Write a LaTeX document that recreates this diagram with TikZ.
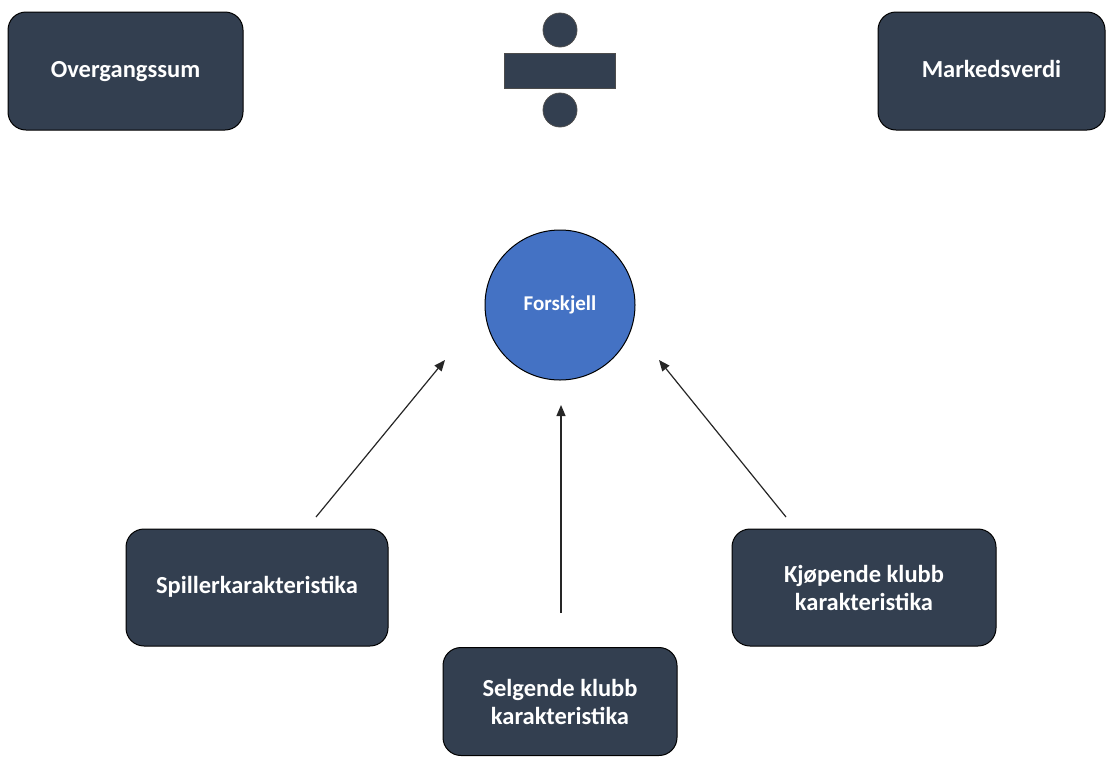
\documentclass[tikz,border=0pt]{standalone}
\usepackage{fontspec}
\setmainfont{Carlito}
\usetikzlibrary{arrows.meta}
\definecolor{boxfill}{HTML}{333F50}
\definecolor{circfill}{HTML}{4472C4}
\begin{document}
\begin{tikzpicture}[x=1pt,y=-1pt,
  darkbox/.style={draw=black,line width=1pt,fill=boxfill,rounded corners=18pt,
    text=white,font=\fontsize{24.5}{28}\selectfont\bfseries,align=center,inner sep=0pt},
  oneline/.style={text height=17pt,text depth=5pt},
  darkshape/.style={draw=black!70,line width=0.8pt,fill=boxfill},
  arr/.style={draw=black!85,line width=1.2pt,-{Triangle[length=11pt,width=9pt]}}]
\useasboundingbox (0,0) rectangle (1107,756);
\node[darkbox,oneline,minimum width=235pt,minimum height=118pt] (over) at (125.5,71) {Overgangssum};
\node[darkbox,oneline,minimum width=227pt,minimum height=118pt] (mark) at (991.5,71) {Markedsverdi};
\node[darkshape,circle,minimum size=34pt,inner sep=0pt] (dtop) at (560,30) {};
\node[darkshape,rectangle,minimum width=111pt,minimum height=35pt,inner sep=0pt] (dbar) at (559.5,70.5) {};
\node[darkshape,circle,minimum size=34pt,inner sep=0pt] (dbot) at (560,110) {};
\node[circle,draw=black,line width=1pt,fill=circfill,minimum size=150pt,inner sep=0pt,
  text=white,font=\fontsize{21}{24}\selectfont\bfseries,text height=14pt,text depth=4pt] (fors) at (560,305) {Forskjell};
\node[darkbox,oneline,minimum width=262pt,minimum height=117pt] (spill) at (257,587.5) {Spillerkarakteristika};
\node[darkbox,minimum width=234pt,minimum height=108pt] (selg) at (560,701.5) {Selgende klubb\\karakteristika};
\node[darkbox,minimum width=264pt,minimum height=117pt] (kjop) at (864,587.5) {Kjøpende klubb\\karakteristika};
\coordinate (a1s) at (316,517);
\coordinate (a1e) at (445,360);
\coordinate (a2s) at (561,613);
\coordinate (a2e) at (561,405);
\coordinate (a3s) at (786,517);
\coordinate (a3e) at (659,360);
\draw[arr] (a1s) -- (a1e);
\draw[arr] (a2s) -- (a2e);
\draw[arr] (a3s) -- (a3e);
\end{tikzpicture}
\end{document}
